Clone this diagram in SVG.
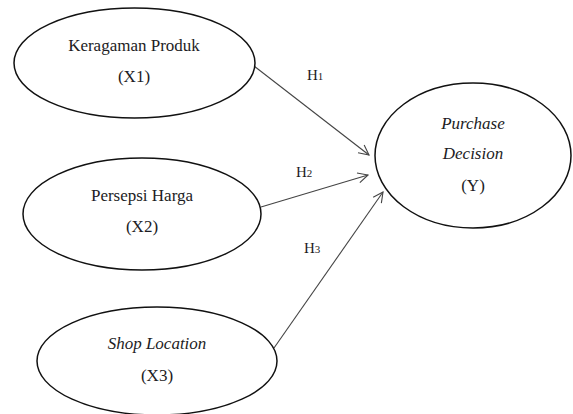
<svg xmlns="http://www.w3.org/2000/svg" width="573" height="414" viewBox="0 0 573 414">
<defs>
<marker id="arr" viewBox="0 0 12 12" refX="11" refY="6" markerWidth="12" markerHeight="12" markerUnits="userSpaceOnUse" orient="auto">
<path d="M1,1 L11,6 L1,11" fill="none" stroke="#444" stroke-width="1.1"/>
</marker>
<style>
.node ellipse{fill:#fff;stroke:#111;stroke-width:1.5}
text{font-family:'Liberation Serif',serif}
.t{font-size:17px;fill:#1c1c24;text-anchor:middle}
.i{font-style:italic}
.lbl{font-size:15px;fill:#1c1c24}
.sub{font-size:11px}
.edge{stroke:#444;stroke-width:1.1;fill:none;marker-end:url(#arr)}
</style>
</defs>
<rect width="573" height="414" fill="#fff"/>
<g id="connectors">
<line class="edge" x1="254" y1="66" x2="369" y2="155"/>
<line class="edge" x1="261" y1="207" x2="368" y2="175"/>
<line class="edge" x1="274" y1="348" x2="383" y2="192"/>
<text class="lbl" x="307" y="80">H<tspan class="sub">1</tspan></text>
<text class="lbl" x="296" y="177">H<tspan class="sub">2</tspan></text>
<text class="lbl" x="304" y="253">H<tspan class="sub">3</tspan></text>
</g>
<g id="x1" class="node">
<ellipse cx="134.5" cy="63" rx="120.5" ry="55"/>
<text class="t" x="134" y="51">Keragaman Produk</text>
<text class="t" x="134" y="82">(X1)</text>
</g>
<g id="x2" class="node">
<ellipse cx="142" cy="214" rx="119" ry="56"/>
<text class="t" x="142" y="201">Persepsi Harga</text>
<text class="t" x="142" y="232">(X2)</text>
</g>
<g id="x3" class="node">
<ellipse cx="157" cy="361" rx="120" ry="54"/>
<text class="t i" x="157" y="349">Shop Location</text>
<text class="t" x="157" y="381">(X3)</text>
</g>
<g id="y" class="node">
<ellipse cx="473" cy="155.5" rx="98" ry="72.5"/>
<text class="t i" x="473" y="129">Purchase</text>
<text class="t i" x="473" y="159">Decision</text>
<text class="t" x="473" y="191">(Y)</text>
</g>
</svg>
